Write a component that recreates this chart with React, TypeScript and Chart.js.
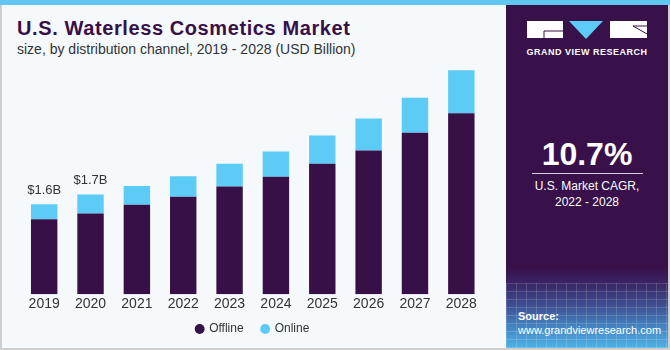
import React, { useEffect, useRef } from "react";
import { Chart, registerables } from "chart.js";

Chart.register(...registerables);

const years = ["2019", "2020", "2021", "2022", "2023", "2024", "2025", "2026", "2027", "2028"];
const offline = [1.31, 1.41, 1.56, 1.7, 1.88, 2.05, 2.28, 2.51, 2.82, 3.16];
const online = [0.26, 0.33, 0.33, 0.36, 0.4, 0.44, 0.49, 0.56, 0.61, 0.75];
const totalLabels = ["$1.6B", "$1.7B", "", "", "", "", "", "", "", ""];

const OFFLINE = "#381048";
const ONLINE = "#5ccbf5";
const FONT = "'Liberation Sans', Arial, sans-serif";

const labelPlugin = {
  id: "totalLabels",
  afterDatasetsDraw(chart: any) {
    const ctx = chart.ctx;
    const meta = chart.getDatasetMeta(1);
    ctx.save();
    ctx.font = `13px ${FONT}`;
    ctx.fillStyle = "#333333";
    ctx.textAlign = "center";
    ctx.textBaseline = "middle";
    meta.data.forEach((bar: any, i: number) => {
      const t = totalLabels[i];
      if (t) ctx.fillText(t, bar.x, bar.y - 14);
    });
    ctx.restore();
  },
};

function ChartCanvas() {
  const ref = useRef<HTMLCanvasElement | null>(null);
  useEffect(() => {
    if (!ref.current) return;
    const chart = new Chart(ref.current, {
      type: "bar",
      data: {
        labels: years,
        datasets: [
          { label: "Offline   ", data: offline, backgroundColor: OFFLINE, barPercentage: 0.57, categoryPercentage: 1 },
          { label: "Online", data: online, backgroundColor: ONLINE, barPercentage: 0.57, categoryPercentage: 1 },
        ],
      },
      options: {
        animation: false,
        responsive: false,
        maintainAspectRatio: false,
        layout: { padding: { left: 21, right: 21.5, top: 36.5, bottom: 5 } },
        scales: {
          x: {
            stacked: true,
            grid: { display: false, drawTicks: false },
            border: { display: false },
            ticks: { color: "#333333", font: { family: FONT, size: 14 }, padding: 2 },
          },
          y: { stacked: true, display: false, min: 0, max: 4.5 },
        },
        plugins: {
          legend: {
            position: "bottom",
            labels: {
              usePointStyle: true,
              pointStyle: "circle",
              boxWidth: 7,
              boxHeight: 7,
              padding: 8,
              color: "#333333",
              font: { family: FONT, size: 12 },
            },
          },
          tooltip: { enabled: false },
        },
      },
      plugins: [labelPlugin],
    });
    return () => chart.destroy();
  }, []);
  return (
    <canvas
      ref={ref}
      width={506}
      height={350}
      style={{ position: "absolute", left: 0, top: 0, width: 506, height: 350 }}
    />
  );
}

export default function App() {
  return (
    <div
      style={{
        position: "fixed",
        left: 0,
        top: 0,
        width: 670,
        height: 350,
        background: "#cfcfcf",
        overflow: "hidden",
        fontFamily: FONT,
      }}
    >
      <div style={{ position: "absolute", left: 0, top: 0, width: 670, height: 5, background: "#5fc7f0" }} />
      <div style={{ position: "absolute", left: 2, top: 5, width: 504, height: 343, background: "#f5f9fc" }} />
      <div
        style={{
          position: "absolute",
          left: 17,
          top: 18,
          fontSize: 20,
          lineHeight: "20px",
          fontWeight: 700,
          letterSpacing: 0.6,
          color: OFFLINE,
          whiteSpace: "nowrap",
        }}
      >
        U.S. Waterless Cosmetics Market
      </div>
      <div
        style={{
          position: "absolute",
          left: 17,
          top: 40.6,
          fontSize: 14,
          lineHeight: "16px",
          color: "#333333",
          whiteSpace: "nowrap",
        }}
      >
        size, by distribution channel, 2019 - 2028 (USD Billion)
      </div>
      <ChartCanvas />
      {/* right panel */}
      <div style={{ position: "absolute", left: 506, top: 5, width: 162, height: 343, background: "#38104a", overflow: "hidden" }}>
        <div
          style={{
            position: "absolute",
            left: 0,
            top: 262,
            width: 162,
            height: 81,
            background: "linear-gradient(180deg, #38104a 0%, #3a2262 18%, #3d4a8c 45%, #4486c4 75%, #4fb2e6 100%)",
          }}
        />
        <div
          style={{
            position: "absolute",
            left: 0,
            top: 278,
            width: 162,
            height: 65,
            opacity: 0.45,
            background:
              "repeating-linear-gradient(90deg, rgba(255,255,255,0.35) 0 1px, transparent 1px 10px), repeating-linear-gradient(0deg, rgba(255,255,255,0.35) 0 1px, transparent 1px 8px)",
          }}
        />
        <svg width={162} height={45} style={{ position: "absolute", left: 0, top: 0 }}>
          <rect x={21} y={16} width={36} height={17} fill="#ffffff" />
          <polyline points="57,26 38,26 38,33" fill="none" stroke="#38104a" strokeWidth={1} />
          <polygon points="63,16 97,16 80,34" fill={ONLINE} />
          <rect x={104} y={16} width={37} height={17} fill="#ffffff" />
          <polyline points="141,21 127,21 141,29" fill="none" stroke="#38104a" strokeWidth={1} />
        </svg>
        <div
          style={{
            position: "absolute",
            left: 0,
            top: 41,
            width: 162,
            textAlign: "center",
            fontSize: 9,
            lineHeight: "12px",
            fontWeight: 700,
            letterSpacing: 0.5,
            color: "#ffffff",
            whiteSpace: "nowrap",
          }}
        >
          GRAND VIEW RESEARCH
        </div>
        <div
          style={{
            position: "absolute",
            left: 0,
            top: 132,
            width: 162,
            textAlign: "center",
            fontSize: 32,
            lineHeight: "34px",
            fontWeight: 700,
            color: "#ffffff",
          }}
        >
          10.7%
        </div>
        <div style={{ position: "absolute", left: 26, top: 168, width: 111, height: 1, background: "#d8d0e0" }} />
        <div
          style={{
            position: "absolute",
            left: 0,
            top: 173,
            width: 162,
            textAlign: "center",
            fontSize: 12,
            lineHeight: "16px",
            color: "#ffffff",
          }}
        >
          U.S. Market CAGR,
          <br />
          2022 - 2028
        </div>
        <div
          style={{
            position: "absolute",
            left: 12,
            top: 304,
            fontSize: 11,
            lineHeight: "14px",
            color: "#ffffff",
            whiteSpace: "nowrap",
          }}
        >
          <b>Source:</b>
          <br />
          www.grandviewresearch.com
        </div>
      </div>
    </div>
  );
}
